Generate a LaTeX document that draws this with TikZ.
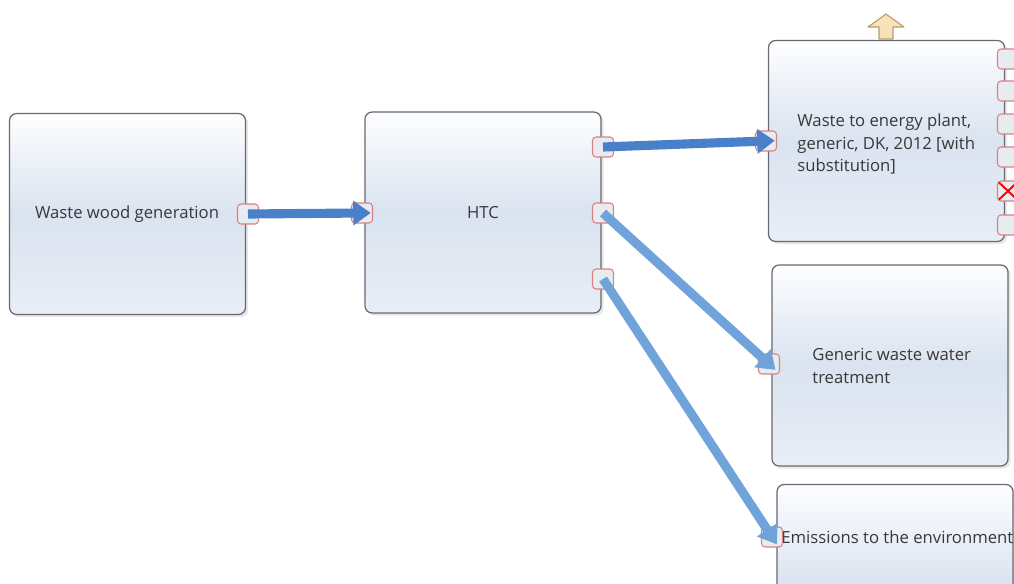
\documentclass[tikz,border=0pt]{standalone}
\usepackage{fontspec}
\setmainfont{Open Sans}
\usetikzlibrary{arrows.meta,shadows}

\definecolor{boxtop}{RGB}{253,254,255}
\definecolor{boxmid}{RGB}{218,227,240}
\definecolor{boxbot}{RGB}{232,238,246}
\definecolor{boxline}{RGB}{105,105,110}
\definecolor{portline}{RGB}{215,130,130}
\definecolor{portfill}{RGB}{232,235,240}
\definecolor{flowdark}{RGB}{74,128,202}
\definecolor{flowlight}{RGB}{112,163,218}
\definecolor{uparrowline}{RGB}{185,155,105}
\definecolor{uparrowfill}{RGB}{248,226,186}

\begin{document}
\begin{tikzpicture}[x=0.02cm, y=-0.02cm,
    process/.style={draw=boxline, line width=0.7pt, rounded corners=4pt,
        top color=boxtop, bottom color=boxbot, middle color=boxmid,
        minimum width=4.72cm, minimum height=4.02cm, inner sep=0pt,
        drop shadow={opacity=0.18, shadow xshift=1.5pt, shadow yshift=-1.5pt}},
    proctext/.style={font=\fontsize{9.5}{13}\selectfont, text=black!78, align=left, inner sep=0pt},
    port/.style={draw=portline, fill=portfill, rounded corners=2pt, line width=0.6pt,
        minimum width=0.42cm, minimum height=0.4cm, inner sep=0pt},
    flow/.style={line width=5.2pt, -{Triangle[length=10pt,width=13.5pt]}, shorten >=-5pt}]
    \useasboundingbox (0,0) rectangle (1014,584);
    \clip (0,0) rectangle (1014,584);

    % Draw process boxes
    \node[process] (wood) at (127.5,214) {};
    \node[process] (htc) at (483,212.5) {};
    \node[process] (wte) at (886.5,141) {};
    \node[process] (wwt) at (890,365.5) {};
    \node[process] (emis) at (895,585) {};

    % Draw box texts
    \node[proctext] (woodtext) at (127,214) {Waste wood generation};
    \node[proctext] (htctext) at (483,213) {HTC};
    \node[proctext, anchor=west] (wtetext) at (797,144) {Waste to energy plant,\\generic, DK, 2012 [with\\substitution]};
    \node[proctext, anchor=west] (wwttext) at (812,366) {Generic waste water\\treatment};
    \node[proctext, anchor=west] (emistext) at (781,537) {Emissions to the environment};

    % Draw output marker
    \draw[uparrowline, fill=uparrowfill, line width=0.6pt, line join=round]
        (879,39) -- (893,39) -- (893,27) -- (904,27) -- (886,14) -- (868,27) -- (879,27) -- cycle;

    % Draw ports
    \node[port] (woodout) at (248,214) {};
    \node[port] (htcin) at (362,213) {};
    \node[port] (htcout1) at (603,147) {};
    \node[port] (htcout2) at (603,213) {};
    \node[port] (htcout3) at (603,279) {};
    \node[port] (wtein) at (766,141) {};
    \node[port] (wwtin) at (769,364) {};
    \node[port] (emisin) at (772,537) {};
    \foreach \y [count=\i] in {59,91,124,157,191,225}
        \node[port] (wteout\i) at (1008,\y) {};
    \draw[red, line width=1.1pt] ([shift={(2,2)}]wteout5.north west) -- ([shift={(-2,-2)}]wteout5.south east)
        ([shift={(2,-2)}]wteout5.south west) -- ([shift={(-2,2)}]wteout5.north east);

    % Draw flows
    \draw[flow, flowdark] (woodout.center) -- (htcin.center);
    \draw[flow, flowdark] (htcout1.center) -- (wtein.center);
    \draw[flow, flowlight] (htcout2.center) -- (wwtin.center);
    \draw[flow, flowlight] (htcout3.center) -- (emisin.center);
\end{tikzpicture}
\end{document}
